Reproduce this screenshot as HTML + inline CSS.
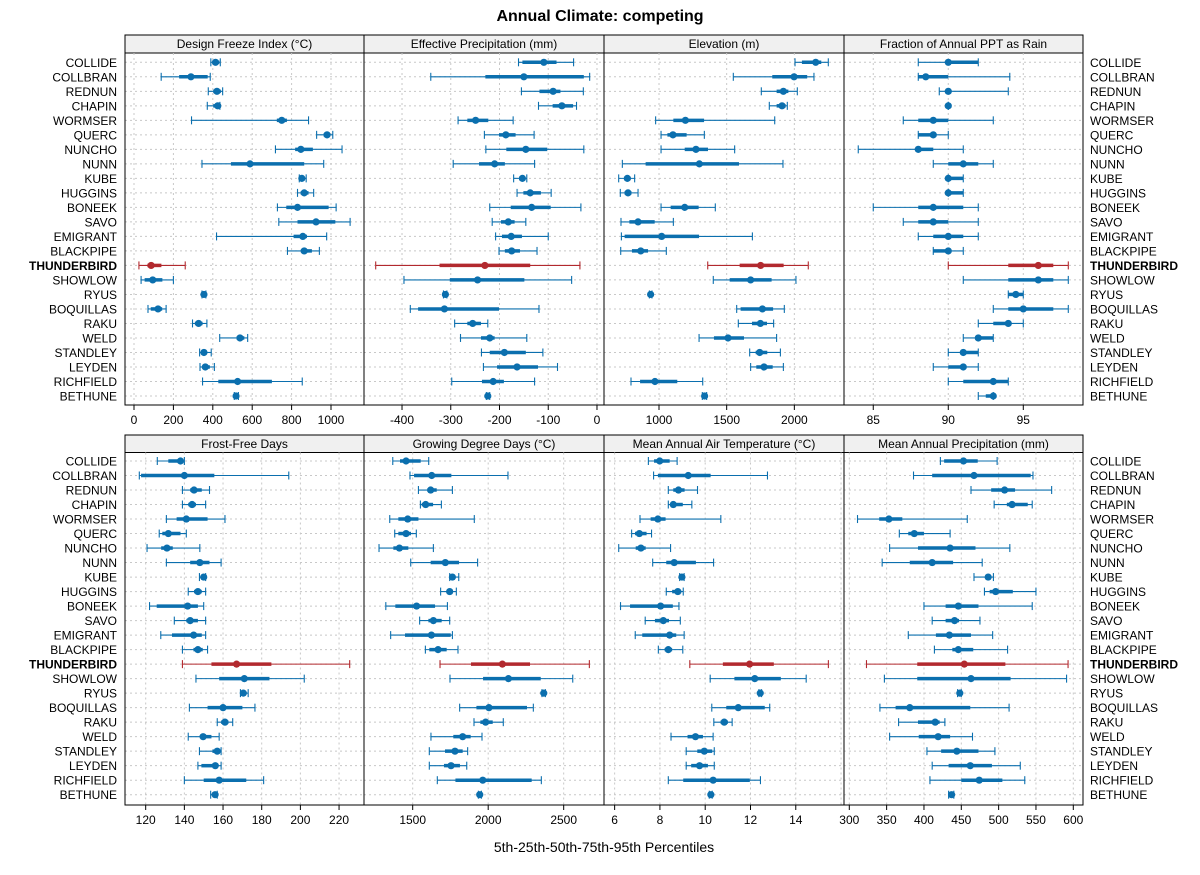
<!DOCTYPE html>
<html><head><meta charset="utf-8"><title>Annual Climate: competing</title>
<style>
html,body{margin:0;padding:0;background:#fff;}
svg{display:block;font-family:"Liberation Sans",Arial,sans-serif;}
</style></head>
<body>
<svg id="chart" width="1200" height="875" viewBox="0 0 1200 875"></svg>
<script>
const sites = ["COLLIDE","COLLBRAN","REDNUN","CHAPIN","WORMSER","QUERC","NUNCHO","NUNN","KUBE","HUGGINS","BONEEK","SAVO","EMIGRANT","BLACKPIPE","THUNDERBIRD","SHOWLOW","RYUS","BOQUILLAS","RAKU","WELD","STANDLEY","LEYDEN","RICHFIELD","BETHUNE"];
const highlight = "THUNDERBIRD";

// each row: [p5, p25, p50, p75, p95]
const freezeIndex = [[390,397,414,433,438],[138,229,289,374,387],[377,402,421,441,450],[372,402,425,431,436],[292,725,750,776,886],[927,963,980,992,1009],[718,818,847,908,1056],[345,492,589,864,963],[839,846,852,861,874],[830,846,864,886,912],[728,773,830,988,1026],[735,830,924,1022,1097],[419,810,857,878,978],[779,847,864,903,941],[25,68,87,139,260],[36,54,95,144,200],[345,350,355,360,365],[71,85,122,143,163],[297,309,328,348,370],[435,521,538,560,577],[333,343,355,368,392],[335,348,362,385,408],[348,428,526,700,854],[509,513,518,525,530]];
const effPrecip = [[-161,-153,-109,-83,-48],[-341,-229,-150,-27,-15],[-155,-118,-90,-75,-28],[-120,-91,-72,-49,-42],[-285,-266,-249,-223,-172],[-231,-201,-187,-167,-129],[-228,-186,-146,-102,-27],[-295,-242,-210,-189,-128],[-171,-160,-153,-148,-144],[-164,-151,-137,-115,-94],[-220,-177,-134,-95,-33],[-215,-197,-182,-169,-146],[-208,-195,-176,-154,-100],[-201,-189,-175,-158,-123],[-454,-323,-230,-137,-35],[-396,-302,-245,-149,-52],[-315,-313,-311,-310,-308],[-383,-367,-313,-201,-119],[-292,-266,-255,-238,-224],[-280,-238,-220,-210,-144],[-237,-220,-190,-146,-111],[-233,-205,-164,-121,-81],[-298,-236,-213,-191,-128],[-227,-226,-224,-221,-220]];
const elevation = [[2005,2056,2158,2199,2251],[1549,1837,1998,2095,2145],[1756,1869,1919,1956,2022],[1815,1869,1909,1936,1948],[975,1106,1195,1333,1855],[1015,1062,1103,1204,1335],[1015,1190,1273,1362,1559],[729,901,1298,1591,1916],[702,741,766,791,820],[714,746,771,796,845],[1015,1086,1190,1293,1416],[719,781,845,968,1106],[722,746,1020,1296,1690],[717,800,865,919,1054],[1360,1596,1751,1921,2103],[1401,1522,1677,1832,2012],[929,934,938,943,948],[1574,1603,1764,1843,1926],[1586,1687,1749,1798,1847],[1296,1406,1510,1628,1869],[1670,1714,1744,1800,1897],[1677,1719,1776,1840,1919],[793,860,970,1135,1323],[1320,1327,1337,1345,1352]];
const rainFraction = [[88,90,90,92,92],[88,88,88.5,90,94.1],[89.4,90,90,90,94],[90,90,90,90,90],[87,88,89,90,93],[88,88,89,89,90],[84,88,88,89,91],[89,90,91,92,93],[90,90,90,91,91],[90,90,90,91,91],[85,88,89,91,92],[87,88,89,90,92],[88,89,90,91,92],[89,89,90,90,91],[90,94,96,97,98],[91,94,96,97,98],[94,94,94.5,95,95],[93,94,95,97,98],[92,93,94,94,95],[91,92,92,93,93],[90,91,91,92,92],[89,90,91,91,92],[90,91,93,94,94],[92,92.5,93,93,93]];
const frostFree = [[126,131.7,138,139,140],[116.7,117.6,140,155.5,194],[139,143,145,149,153],[139,142,144,146,151],[130.7,136,141,152,161],[127,128.6,131.7,138,141],[120.7,128,131,134,148],[130.7,143,148,153,159],[147.8,148.6,150,150.7,151],[142,145,147,149,151],[122,125.7,141.7,147,150],[134.8,141,143,147,151],[127.8,133.6,144.8,149,151],[139,144.7,147,149.5,152],[139,154,167,185,225.5],[146,158,171,184,202],[169,169.7,170.5,172,173],[142.6,152,160,170,176.5],[157,159,161,162.8,165],[142,148,149.7,154,158],[147.8,154.5,157,158,159],[147,148.8,156,156.7,159],[140,150,158,172,181],[153.6,154.8,155.9,156.6,157]];
const growingDD = [[1368,1416,1456,1553,1606],[1482,1509,1626,1756,2131],[1538,1597,1619,1659,1763],[1551,1560,1586,1635,1690],[1348,1405,1467,1538,1908],[1381,1405,1456,1489,1524],[1277,1372,1412,1471,1637],[1487,1619,1716,1807,1930],[1745,1749,1763,1780,1805],[1685,1723,1745,1767,1789],[1322,1385,1526,1648,1730],[1546,1604,1637,1692,1745],[1354,1449,1624,1752,1763],[1584,1610,1668,1725,1800],[1681,1886,2094,2277,2670],[1747,1966,2134,2348,2560],[2356,2363,2368,2372,2379],[1811,1922,2005,2257,2299],[1906,1948,1983,2030,2100],[1621,1769,1831,1884,1959],[1610,1714,1780,1831,1864],[1610,1707,1754,1813,1858],[1663,1783,1964,2288,2352],[1935,1939,1944,1951,1955]];
const airTemp = [[7.49,7.74,7.99,8.43,8.76],[7.72,7.91,9.25,10.24,12.75],[8.37,8.59,8.82,9.09,9.66],[8.37,8.47,8.59,9.01,9.41],[7.12,7.59,7.91,8.25,10.69],[6.75,6.9,7.09,7.41,7.63],[6.18,6.93,7.16,7.37,8.47],[7.68,8.28,8.63,9.59,10.37],[8.87,8.9,8.97,9.03,9.07],[8.28,8.54,8.79,8.94,9.03],[6.26,6.68,8.03,8.57,8.84],[7.35,7.78,8.15,8.4,8.9],[6.91,7.22,8.43,8.72,9.07],[7.93,8.21,8.37,8.54,9.01],[9.32,10.78,11.96,13.03,15.44],[10.22,11.29,12.19,13.34,14.46],[12.37,12.4,12.43,12.46,12.49],[10.29,10.93,11.46,12.63,12.85],[10.38,10.68,10.84,11,11.19],[8.49,9.22,9.57,9.9,10.35],[9.16,9.65,9.96,10.31,10.4],[9.16,9.38,9.75,10.12,10.4],[8.37,9.03,10.35,11.97,12.44],[10.18,10.21,10.25,10.28,10.31]];
const annualPrecip = [[422,427,453,472,498],[386,411,467,543,546],[463,490,508,522,571],[494,511,518,539,545],[311,340,353,371,458],[367,379,387,400,435],[354,392,435,469,515],[344,381,411,439,478],[467,483,486,489,493],[481,488,496,519,550],[400,429,446,473,545],[411,429,441,447,475],[379,416,434,463,492],[414,438,446,466,512],[323,391,454,509,593],[347,391,463,516,591],[445,446,448,449,450],[341,362,381,462,514],[366,392,415,421,428],[354,393,419,435,465],[404,423,444,473,495],[411,433,462,491,529],[408,450,474,505,535],[433,434,437,439,440]];

const ticksFreeze = [0,200,400,600,800,1000];
const ticksEff = [-400,-300,-200,-100,0];
const ticksElev = [1000,1500,2000];
const ticksRain = [85,90,95];
const ticksFrost = [120,140,160,180,200,220];
const ticksGDD = [1500,2000,2500];
const gridGDD = [1500,2000,2500];
const ticksTemp = [6,8,10,12,14];
const gridTemp = [6,8,10,12,14,16];
const ticksPrecip = [300,350,400,450,500,550,600];

const panels = [
  {name:"design-freeze-index", title:"Design Freeze Index (°C)", data:freezeIndex, ticks:ticksFreeze, grid:ticksFreeze, x0:125, x1:364, row:0, lo:-45.7, hi:1167.5},
  {name:"effective-precipitation", title:"Effective Precipitation (mm)", data:effPrecip, ticks:ticksEff, grid:ticksEff, x0:364, x1:604, row:0, lo:-478, hi:14.4},
  {name:"elevation", title:"Elevation (m)", data:elevation, ticks:ticksElev, grid:ticksElev, x0:604, x1:844, row:0, lo:593.5, hi:2367},
  {name:"fraction-ppt-rain", title:"Fraction of Annual PPT as Rain", data:rainFraction, ticks:ticksRain, grid:ticksRain, x0:844, x1:1083, row:0, lo:83.05, hi:98.98},
  {name:"frost-free-days", title:"Frost-Free Days", data:frostFree, ticks:ticksFrost, grid:ticksFrost, x0:125, x1:364, row:1, lo:109.3, hi:232.9},
  {name:"growing-degree-days", title:"Growing Degree Days (°C)", data:growingDD, ticks:ticksGDD, grid:gridGDD, x0:364, x1:604, row:1, lo:1177.5, hi:2767},
  {name:"mean-annual-air-temp", title:"Mean Annual Air Temperature (°C)", data:airTemp, ticks:ticksTemp, grid:gridTemp, x0:604, x1:844, row:1, lo:5.53, hi:16.13},
  {name:"mean-annual-precip", title:"Mean Annual Precipitation (mm)", data:annualPrecip, ticks:ticksPrecip, grid:ticksPrecip, x0:844, x1:1083, row:1, lo:292.9, hi:613}
];
const rowsLayout = [{top:35, strip:53, bottom:405, y0:62.3, y1:396}, {top:435, strip:452.5, bottom:805, y0:461, y1:794.7}];

const NS = "http://www.w3.org/2000/svg";
const svg = document.getElementById("chart");
function mk(tag, attrs, parent){
  const e = document.createElementNS(NS, tag);
  for (const k in attrs) e.setAttribute(k, attrs[k]);
  (parent||svg).appendChild(e);
  return e;
}
const BLUE = "#0b6fae", RED = "#b2292e";

const title = mk("text",{x:600,y:21,"text-anchor":"middle","font-size":"16","font-weight":"bold",fill:"#000"});
title.textContent = "Annual Climate: competing";



const xt = mk("text",{x:604,y:852,"text-anchor":"middle","font-size":"14",fill:"#000"});
xt.textContent = "5th-25th-50th-75th-95th Percentiles";



function yOf(L, i){ return L.y0 + i*(L.y1-L.y0)/(sites.length-1); }

// site labels
rowsLayout.forEach((L, r) => {
  sites.forEach((s, i) => {
    const y = yOf(L, i) + 4.5;
    const bold = s === highlight ? "bold" : "normal";
    const a = mk("text",{x:117,y:y,"text-anchor":"end","font-size":"12","font-weight":bold,fill:"#000"});
    a.textContent = s;
    
    
    const b = mk("text",{x:1090,y:y,"text-anchor":"start","font-size":"12","font-weight":bold,fill:"#000"});
    b.textContent = s;
    
    
  });
});

panels.forEach(p => {
  const L = rowsLayout[p.row];
  const g = mk("g",{});
  
  
  const sx = v => p.x0 + (v - p.lo) / (p.hi - p.lo) * (p.x1 - p.x0);
  // strip
  const st = mk("rect",{x:p.x0,y:L.top,width:p.x1-p.x0,height:L.strip-L.top,fill:"#f0f0f0",stroke:"#000","stroke-width":1},g);
  
  
  const stt = mk("text",{x:(p.x0+p.x1)/2,y:L.top+13,"text-anchor":"middle","font-size":"12",fill:"#000"},g);
  stt.textContent = p.title;
  
  
  // grid
  p.grid.forEach(t => {
    const x = sx(t);
    if (x <= p.x0 || x >= p.x1) return;
    const gl = mk("line",{x1:x,x2:x,y1:L.strip,y2:L.bottom,stroke:"#c8c8c8","stroke-width":1,"stroke-dasharray":"2,3"},g);
    
    
  });
  sites.forEach((s, i) => {
    const y = yOf(L, i);
    const hl = mk("line",{x1:p.x0,x2:p.x1,y1:y,y2:y,stroke:"#c8c8c8","stroke-width":1,"stroke-dasharray":"2,3"},g);
    
    
  });
  // marks
  p.data.forEach((d, i) => {
    const y = yOf(L, i);
    const col = sites[i] === highlight ? RED : BLUE;
    const mg = mk("g",{},g);
    
    
    mk("line",{x1:sx(d[0]),x2:sx(d[4]),y1:y,y2:y,stroke:col,"stroke-width":1.1},mg);
    mk("line",{x1:sx(d[0]),x2:sx(d[0]),y1:y-4,y2:y+4,stroke:col,"stroke-width":1.1},mg);
    mk("line",{x1:sx(d[4]),x2:sx(d[4]),y1:y-4,y2:y+4,stroke:col,"stroke-width":1.1},mg);
    mk("line",{x1:sx(d[1]),x2:sx(d[3]),y1:y,y2:y,stroke:col,"stroke-width":3.5},mg);
    mk("circle",{cx:sx(d[2]),cy:y,r:3.6,fill:col},mg);
  });
  // frame
  const fr = mk("rect",{x:p.x0,y:L.top,width:p.x1-p.x0,height:L.bottom-L.top,fill:"none",stroke:"#000","stroke-width":1},g);
  
  
  // ticks
  p.ticks.forEach(t => {
    const x = sx(t);
    const tk = mk("line",{x1:x,x2:x,y1:L.bottom,y2:L.bottom+5,stroke:"#000","stroke-width":1},g);
    
    
    const tl = mk("text",{x:x,y:L.bottom+19,"text-anchor":"middle","font-size":"12",fill:"#000"},g);
    tl.textContent = String(t);
    
    
  });
});
</script>
</body></html>
